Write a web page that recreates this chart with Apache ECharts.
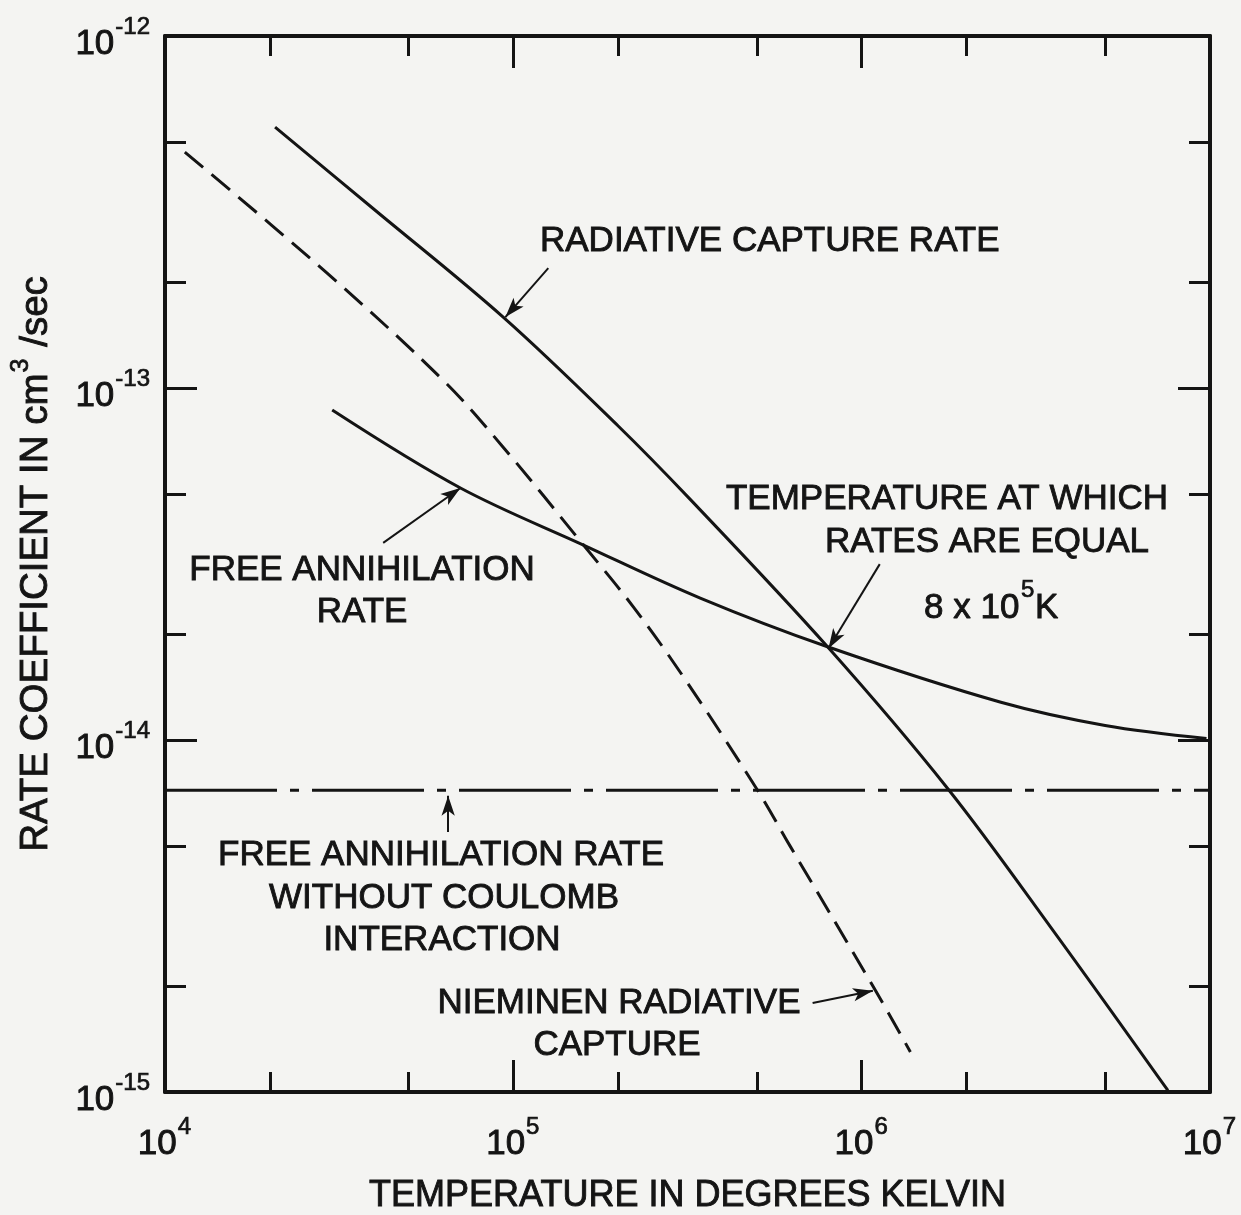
<!DOCTYPE html>
<html><head><meta charset="utf-8">
<script src="https://cdn.jsdelivr.net/npm/echarts@6/dist/echarts.min.js"></script>
<style>html,body{margin:0;padding:0;background:#f4f4f2}#c{width:1241px;height:1215px}</style>
</head><body><div id="c"></div>
<script>
// ---- data (temperature in K, rate coefficient in cm^3/sec) ----
const radiativeT = [2.07e4, 3.98e4, 9.35e4, 2.0e5, 3.23e5, 7.98e5, 1.77e6, 3.55e6, 7.57e6];
const radiativeR = [5.51e-13, 3.22e-13, 1.59e-13, 7.8e-14, 4.81e-14, 1.84e-14, 7.26e-15, 2.87e-15, 1.01e-15];

const annihT = [3.02e4, 7.05e4, 1.59e5, 3.44e5, 7.98e5, 2.51e6, 5.0e6, 9.77e6];
const annihR = [8.66e-14, 5.2e-14, 3.58e-14, 2.53e-14, 1.84e-14, 1.28e-14, 1.10e-14, 1.01e-14];

const nieminenT = [1.14e4, 2.92e4, 6.3e4, 9.35e4, 1.59e5, 2.21e5, 3.08e5, 5.02e5, 6.25e5, 1.08e6, 1.38e6];
const nieminenR = [4.68e-13, 2.12e-13, 1.05e-13, 6.79e-14, 3.58e-14, 2.39e-14, 1.51e-14, 7.21e-15, 4.97e-15, 1.99e-15, 1.30e-15];

const noCoulombT = [1e4, 1e7];
const noCoulombR = [7.2e-15, 7.2e-15];

// ---- ticks ----
const xLabelExponents = [4, 5, 6, 7];
const yLabelExponents = [-15, -14, -13, -12];
const xMinorTicks = [2e4, 5e4, 2e5, 5e5, 2e6, 5e6];
const yMinorTicks = [2e-15, 5e-15, 2e-14, 5e-14, 2e-13, 5e-13];

// ---- annotation arrows (data coordinates: from -> to) ----
const arrowFrom = [[1.26e5, 2.19e-13], [4.23e4, 3.63e-14], [1.127e6, 3.16e-14], [6.5e4, 5.48e-15], [7.23e5, 1.79e-15]];
const arrowTo   = [[9.49e4, 1.59e-13], [7.05e4, 5.2e-14], [8.03e5, 1.82e-14], [6.5e4, 6.94e-15], [1.077e6, 1.94e-15]];

const FONT = "'Liberation Sans', Arial, Helvetica, sans-serif";
const INK = '#141414';
const BW = 0.9; // slight stroke to mimic the medium-weight lettering
const zip = (a, b) => a.map((v, i) => [v, b[i]]);

const chart = echarts.init(document.getElementById('c'));

function expLabel(list) {
  return function (v) {
    const e = Math.round(Math.log10(v));
    if (list.indexOf(e) < 0) return '';
    return '{a|10}{s|' + e + '}';
  };
}
function supRich(big, small, raisePad, dropPad) {
  return {
    a: { fontSize: big, fontFamily: FONT, color: INK, lineHeight: big + 1, verticalAlign: 'middle',
         padding: [dropPad || 0, 0, 0, 0], textBorderColor: INK, textBorderWidth: BW },
    s: { fontSize: small, fontFamily: FONT, color: INK, lineHeight: small, verticalAlign: 'middle',
         padding: [0, 1, raisePad, 1], textBorderColor: INK, textBorderWidth: BW * 0.8 }
  };
}
const xLabelRich = supRich(35, 24, 34, 0);
const yLabelRich = supRich(35, 24, 18, 16);

const axisLineStyle = { show: true, lineStyle: { color: INK, width: 4 } };

function xAxisDef(pos, major) {
  return {
    type: 'log', logBase: 10, min: 1e4, max: 1e7, position: pos,
    axisLine: major ? axisLineStyle : { show: false },
    splitLine: { show: false },
    axisTick: major
      ? { show: true, inside: true, length: 32, lineStyle: { color: INK, width: 3 } }
      : { show: true, inside: true, length: 20, customValues: xMinorTicks, lineStyle: { color: INK, width: 3 } },
    axisLabel: (major && pos === 'bottom')
      ? { show: true, margin: 34, formatter: expLabel(xLabelExponents), rich: xLabelRich }
      : { show: false },
    name: (major && pos === 'bottom') ? 'TEMPERATURE IN DEGREES KELVIN' : '',
    nameLocation: 'middle', nameGap: 86,
    nameTextStyle: { fontSize: 36, fontFamily: FONT, color: INK, textBorderColor: INK, textBorderWidth: BW }
  };
}
function yAxisDef(pos, major) {
  return {
    type: 'log', logBase: 10, min: 1e-15, max: 1e-12, position: pos,
    axisLine: major ? axisLineStyle : { show: false },
    splitLine: { show: false },
    axisTick: major
      ? { show: true, inside: true, length: 32, lineStyle: { color: INK, width: 3 } }
      : { show: true, inside: true, length: 21, customValues: yMinorTicks, lineStyle: { color: INK, width: 3 } },
    axisLabel: (major && pos === 'left')
      ? { show: true, margin: 14, formatter: expLabel(yLabelExponents), rich: yLabelRich }
      : { show: false },
    name: (major && pos === 'left') ? '{a|RATE COEFFICIENT IN cm}{s|3}{a| /sec}' : '',
    nameLocation: 'middle', nameRotate: 90, nameGap: 98,
    nameTextStyle: { fontSize: 38.5, fontFamily: FONT, color: INK, rich: supRich(38.5, 25, 30, 0) }
  };
}

const txt = (text, x, y, align, size) => ({
  type: 'text', x: x, y: y, silent: true,
  style: { text: text, font: (size || 35) + 'px ' + FONT, fill: INK, stroke: INK, lineWidth: size ? BW * 0.8 : BW,
           align: align || 'center', verticalAlign: 'middle' }
});

const option = {
  animation: false,
  backgroundColor: '#f4f4f2',
  grid: { left: 165, right: 31, top: 36, bottom: 123, containLabel: false, outerBoundsMode: 'none' },
  xAxis: [xAxisDef('bottom', true), xAxisDef('bottom', false), xAxisDef('top', true), xAxisDef('top', false)],
  yAxis: [yAxisDef('left', true), yAxisDef('left', false), yAxisDef('right', true), yAxisDef('right', false)],
  series: [
    { type: 'line', name: 'Radiative capture rate', data: zip(radiativeT, radiativeR), smooth: 0.35,
      showSymbol: false, lineStyle: { color: INK, width: 3 } },
    { type: 'line', name: 'Free annihilation rate', data: zip(annihT, annihR), smooth: 0.35,
      showSymbol: false, lineStyle: { color: INK, width: 3 } },
    { type: 'line', name: 'Nieminen radiative capture', data: zip(nieminenT, nieminenR), smooth: 0.35,
      showSymbol: false, lineStyle: { color: INK, width: 3, type: [24, 11] } },
    { type: 'line', name: 'Free annihilation rate without Coulomb interaction', data: zip(noCoulombT, noCoulombR),
      showSymbol: false, lineStyle: { color: INK, width: 3, type: [112, 13, 9, 13] },
      markLine: {
        silent: true, symbol: ['none', 'arrow'], symbolSize: [10, 20],
        lineStyle: { color: INK, width: 2, type: 'solid' }, label: { show: false },
        data: arrowFrom.map((f, i) => [{ coord: f }, { coord: arrowTo[i] }])
      } }
  ],
  graphic: [
    txt('RADIATIVE CAPTURE RATE', 540, 241, 'left'),
    txt('FREE ANNIHILATION', 362, 570),
    txt('RATE', 362, 612),
    txt('TEMPERATURE AT WHICH', 947, 499),
    txt('RATES ARE EQUAL', 987, 542),
    txt('8 x 10', 924, 608, 'left'),
    txt('5', 1021, 590, 'left', 24),
    txt('K', 1035, 608, 'left'),
    txt('FREE ANNIHILATION RATE', 441, 855),
    txt('WITHOUT COULOMB', 444, 898),
    txt('INTERACTION', 442, 940),
    txt('NIEMINEN RADIATIVE', 619, 1003),
    txt('CAPTURE', 617, 1045)
  ]
};
chart.setOption(option);
</script></body></html>
